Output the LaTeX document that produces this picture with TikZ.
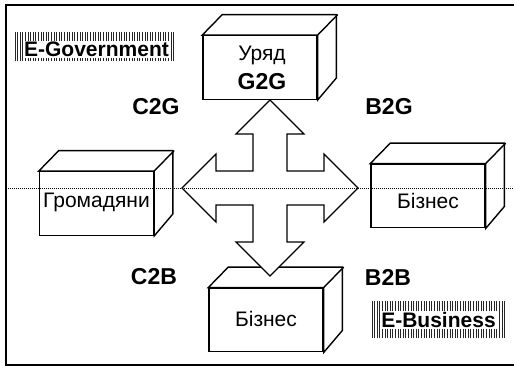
\documentclass[tikz,border=0pt]{standalone}
\usepackage{fontspec}
\setmainfont{Liberation Sans}
\tikzset{
  frameline/.style={line width=1.7pt},
  cubefront/.style={draw, line width=1.4pt, fill=white, minimum width=114pt, minimum height=63.5pt, inner sep=0pt},
  cubeedge/.style={line width=1.4pt, line join=miter},
  cubetext/.style={font=\fontsize{21}{29}\selectfont},
  flowlabel/.style={font=\fontsize{23}{26}\selectfont\bfseries},
  arrowshape/.style={draw, line width=1.2pt, fill=white, line join=miter},
  axisline/.style={line width=1pt, dash pattern=on 1pt off 1pt},
  hatchline/.style={line width=0.7pt, black!85},
  tagtext/.style={font=\fontsize{21}{24}\selectfont\bfseries, fill=white, inner xsep=1pt, inner ysep=1.5pt},
}
% top and side faces of a box drawn behind its front face
\newcommand\cubedepth[1]{%
  \draw[cubeedge, fill=white] (#1.north west) -- ++(20,-20.5) -- ++(114,0) -- ++(0,63.5)
    -- (#1.south east) -- (#1.north east) -- cycle;
  \draw[cubeedge] (#1.north east) -- ++(20,-20.5);
}
% shift a text line vertically without changing the box size TikZ sees
\newcommand\nudge[2]{\raisebox{#1}[\height][\depth]{#2}}
\begin{document}
\begin{tikzpicture}[x=1pt, y=-1pt]
\useasboundingbox (0,0) rectangle (514,367);

% outer frame (open on the right)
\draw[frameline] (514,5) -- (6,5) -- (6,365) -- (514,365);

% hatched tags
\foreach \xx in {15,17.6,...,174.5} \draw[hatchline] (\xx,32) -- (\xx,61);
\node[tagtext] (egov) at (96.5,49.5) {E-Government};
\foreach \xx in {372,374.6,...,506.5} \draw[hatchline] (\xx,301) -- (\xx,338);
\node[tagtext] (ebus) at (438.5,320) {E-Business};

% the four boxes
\node[cubefront, cubetext, align=center] (gov) at (260,67.5)
  {\hspace*{4pt}Уряд\\\hspace*{4pt}{\fontsize{23}{29}\selectfont\bfseries G2G}};
\cubedepth{gov}
\node[cubefront, cubetext] (cit) at (96.5,203.5) {\nudge{1.5pt}{Громадяни}};
\cubedepth{cit}
\node[cubefront, cubetext] (bizr) at (428,196) {\nudge{-5pt}{Бізнес}};
\cubedepth{bizr}
\node[cubefront, cubetext] (bizb) at (266,320) {\nudge{1.5pt}{Бізнес}};
\cubedepth{bizb}

% four-way arrow
\coordinate (hub) at (270,188);
\draw[arrowshape] (hub)
  ++(0,-88) -- ++(34,34) -- ++(-17,0) -- ++(0,37) -- ++(37,0) -- ++(0,-17)
  -- ++(34,34) -- ++(-34,34) -- ++(0,-17) -- ++(-37,0) -- ++(0,37) -- ++(17,0)
  -- ++(-34,34) -- ++(-34,-34) -- ++(17,0) -- ++(0,-37) -- ++(-37,0) -- ++(0,17)
  -- ++(-34,-34) -- ++(34,-34) -- ++(0,17) -- ++(37,0) -- ++(0,-37) -- ++(-17,0)
  -- cycle;

% relation labels
\node[flowlabel] (c2g) at (156,107) {C2G};
\node[flowlabel] (b2g) at (389,107) {B2G};
\node[flowlabel] (c2b) at (154,277) {C2B};
\node[flowlabel] (b2b) at (388,277) {B2B};

% dotted axis across the whole picture
\coordinate (axl) at (6,188);
\coordinate (axr) at (514,188);
\draw[axisline] (axl) -- (axr);
\end{tikzpicture}
\end{document}
